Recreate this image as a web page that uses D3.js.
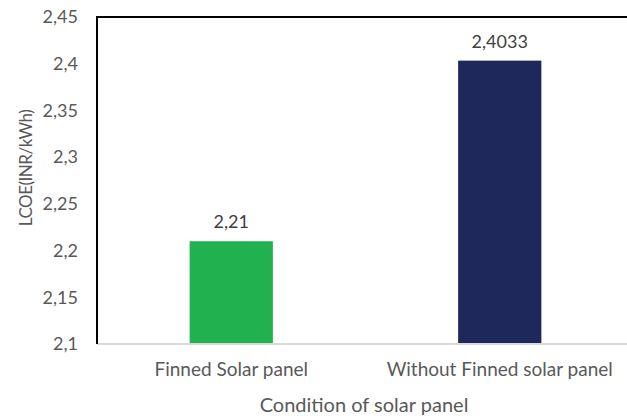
<!DOCTYPE html>
<html>
<head>
<meta charset="utf-8">
<script src="https://cdn.jsdelivr.net/npm/d3@7"></script>
<style>
  body { margin: 0; background: #fff; }
  text { font-family: Lato, "Open Sans", sans-serif; fill: #595959; }
</style>
</head>
<body>
<svg id="chart" width="627" height="416"></svg>
<script>
var categories = ["Finned Solar panel", "Without Finned solar panel"];
var values = [2.21, 2.4033];
var valueLabels = ["2,21", "2,4033"];
var colors = ["#21b14f", "#1f285a"];
var yTicks = [2.1, 2.15, 2.2, 2.25, 2.3, 2.35, 2.4, 2.45];

var svg = d3.select("#chart");
var plotLeft = 97, plotTop = 17, plotBottom = 344, plotRight = 634;

var x = d3.scaleBand()
  .domain(categories)
  .range([plotLeft, plotRight])
  .paddingInner(0.69)
  .paddingOuter(0.345);

var y = d3.scaleLinear()
  .domain([2.1, 2.45])
  .range([plotBottom, plotTop]);

var fmt = function(d) { return d3.format(".2~f")(d).replace(".", ","); };

// bars
svg.append("g").selectAll("rect")
  .data(values)
  .enter().append("rect")
    .attr("x", function(d, i) { return x(categories[i]); })
    .attr("y", function(d) { return y(d); })
    .attr("width", x.bandwidth())
    .attr("height", function(d) { return plotBottom - y(d); })
    .attr("fill", function(d, i) { return colors[i]; });

// value labels
svg.append("g").selectAll("text")
  .data(values)
  .enter().append("text")
    .attr("x", function(d, i) { return x(categories[i]) + x.bandwidth() / 2; })
    .attr("y", function(d) { return y(d) - 13; })
    .attr("text-anchor", "middle")
    .style("font-size", "18px")
    .style("fill", "#404040")
    .text(function(d, i) { return valueLabels[i]; });

// frame lines
svg.append("line")
  .attr("x1", plotLeft).attr("x2", 627)
  .attr("y1", plotBottom).attr("y2", plotBottom)
  .attr("stroke", "#d9d9d9").attr("stroke-width", 2);
svg.append("line")
  .attr("x1", plotLeft).attr("x2", 627)
  .attr("y1", plotTop).attr("y2", plotTop)
  .attr("stroke", "#000").attr("stroke-width", 2);
svg.append("line")
  .attr("x1", plotLeft).attr("x2", plotLeft)
  .attr("y1", plotTop - 1).attr("y2", plotBottom)
  .attr("stroke", "#000").attr("stroke-width", 2);

// y axis labels
var yAxis = d3.axisLeft(y).tickValues(yTicks).tickFormat(fmt).tickSize(0).tickPadding(19);
var gy = svg.append("g").attr("transform", "translate(" + plotLeft + ",0)").call(yAxis);
gy.select(".domain").remove();
gy.selectAll("text").style("font-size", "18px").style("font-family", "Lato, sans-serif").attr("fill", "#595959");

// x axis labels
var xAxis = d3.axisBottom(x).tickSize(0).tickPadding(19);
var gx = svg.append("g").attr("transform", "translate(0," + plotBottom + ")").call(xAxis);
gx.select(".domain").remove();
gx.selectAll("text").style("font-size", "19px").style("font-family", "Lato, sans-serif").attr("fill", "#595959");

// axis titles
svg.append("text")
  .attr("x", 364).attr("y", 412)
  .attr("text-anchor", "middle")
  .style("font-size", "20px")
  .text("Condition of solar panel");

svg.append("text")
  .attr("transform", "translate(32,168) rotate(-90)")
  .attr("text-anchor", "middle")
  .style("font-size", "17px")
  .style("letter-spacing", "-0.5px")
  .text("LCOE(INR/kWh)");
</script>
</body>
</html>
